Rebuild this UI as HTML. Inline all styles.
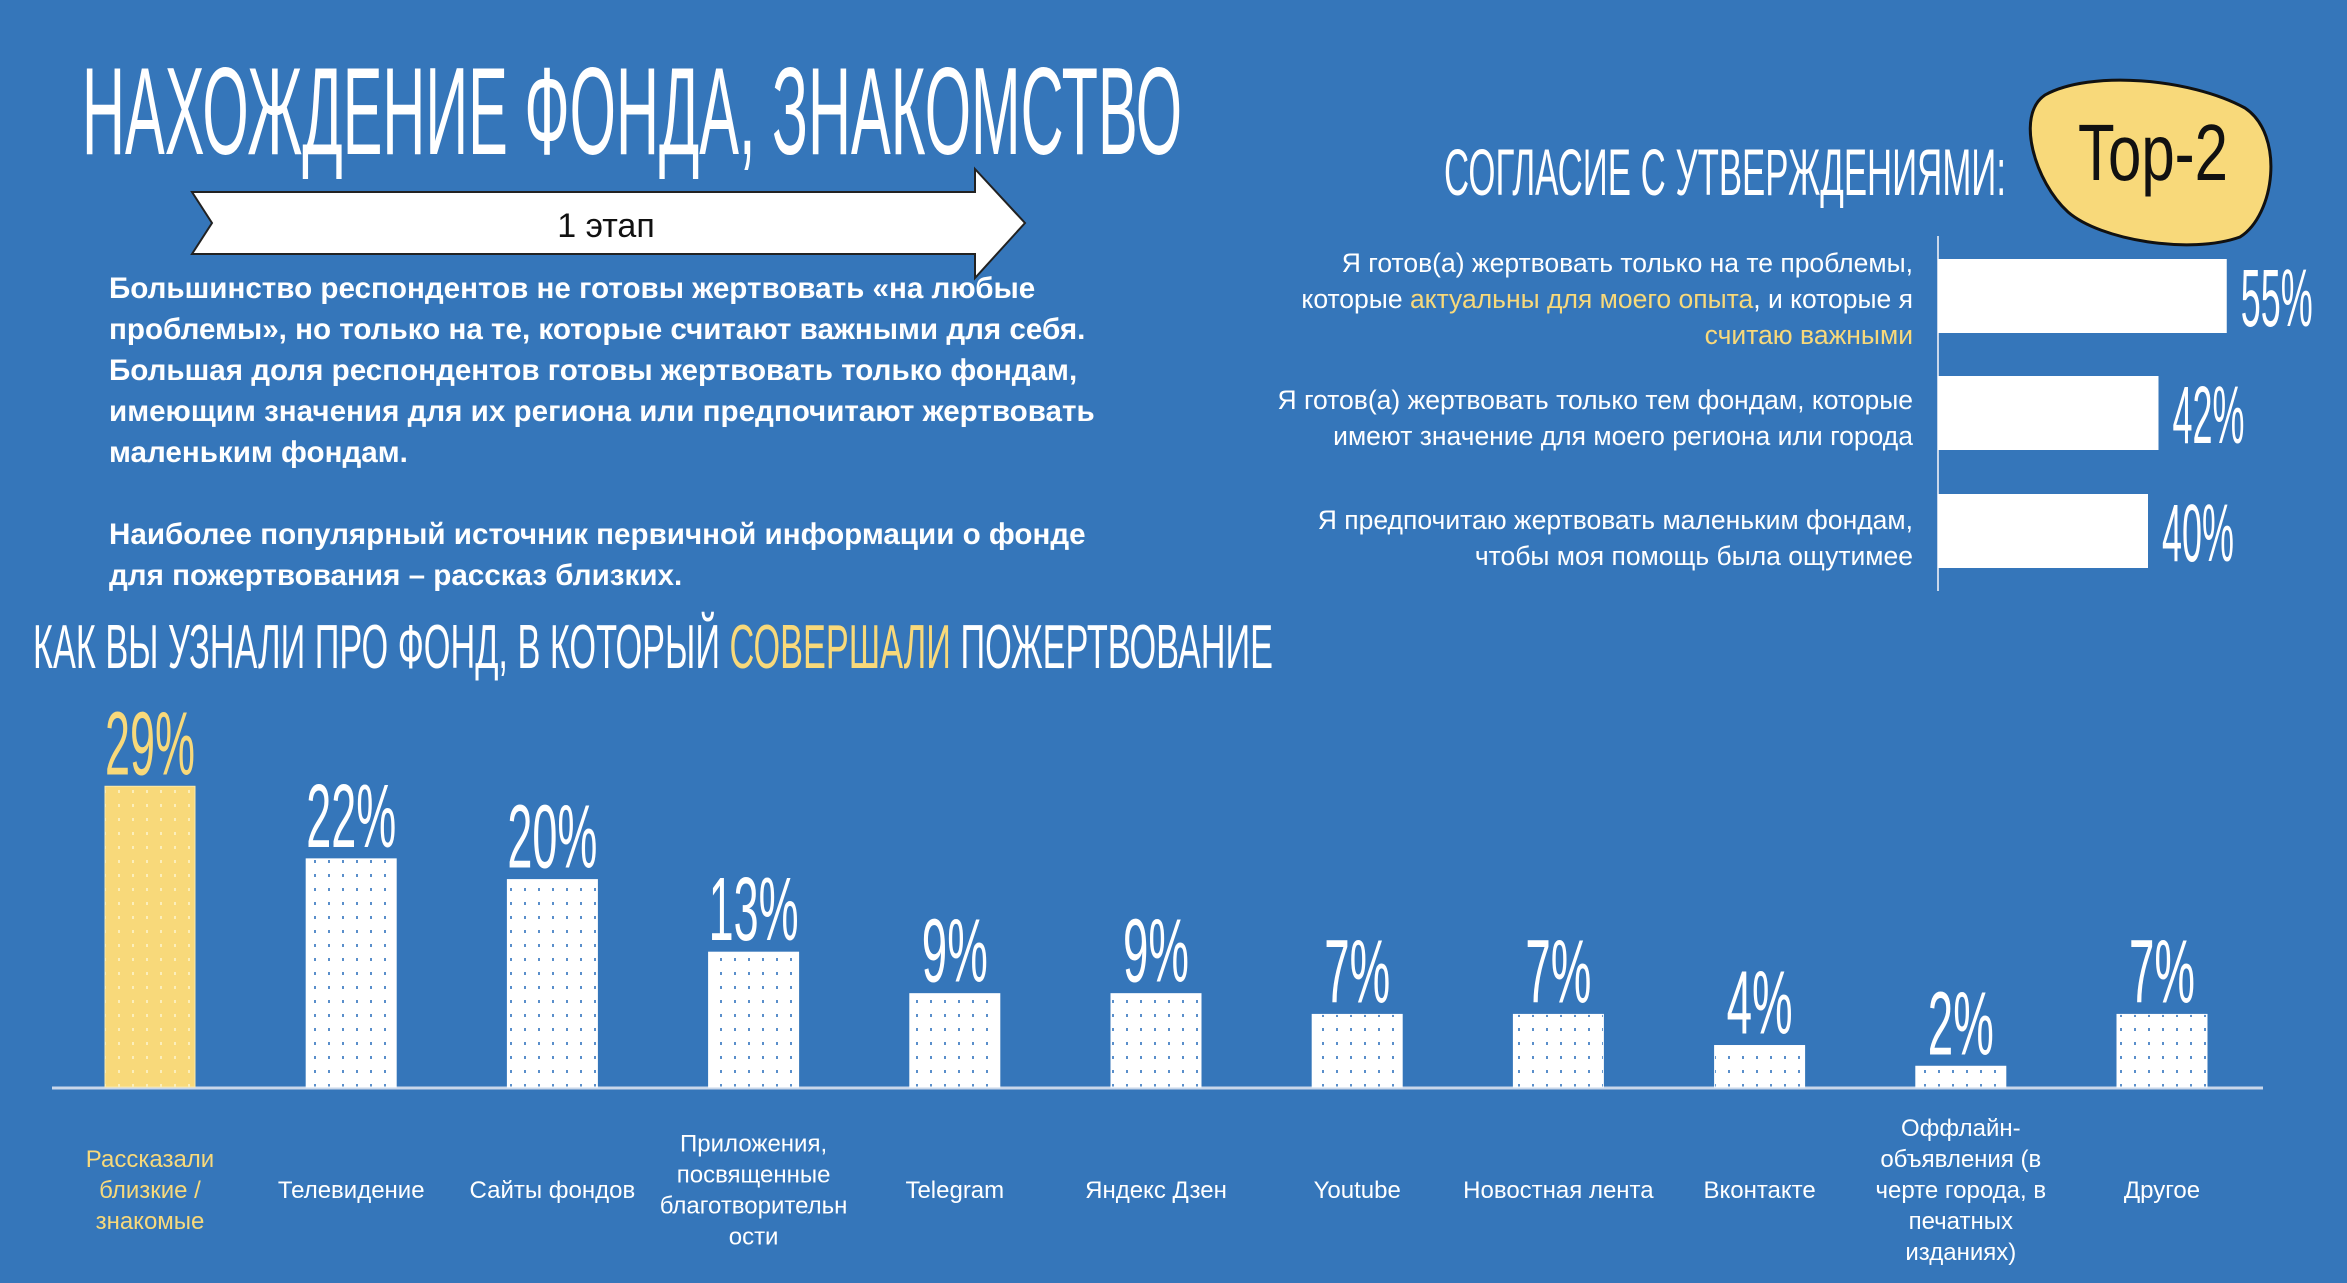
<!DOCTYPE html>
<html><head><meta charset="utf-8"><style>
html,body{margin:0;padding:0;background:#3576ba;}
svg{display:block;}
.hand{font-family:"Liberation Sans Narrow","Liberation Sans","DejaVu Sans Condensed",sans-serif;}
.body{font-family:"Liberation Sans","DejaVu Sans",sans-serif;}
</style></head><body>
<svg id="root" width="2347" height="1283" viewBox="0 0 2347 1283" xmlns="http://www.w3.org/2000/svg">
<defs>
<pattern id="dotsW" width="14" height="14" patternUnits="userSpaceOnUse"><rect width="14" height="14" fill="#ffffff"/><rect x="6" y="6" width="2" height="3" fill="#5a8fcb"/></pattern>
<pattern id="dotsY" width="14" height="14" patternUnits="userSpaceOnUse"><rect width="14" height="14" fill="#f8d97a"/><rect x="6" y="6" width="2" height="3" fill="#fbeebb"/></pattern>
</defs>
<rect width="2347" height="1283" fill="#3576ba"/>
<text class="hand" x="82" y="154" font-size="124" fill="#fff" textLength="1100" lengthAdjust="spacingAndGlyphs">НАХОЖДЕНИЕ ФОНДА, ЗНАКОМСТВО</text>
<polygon points="192,192 975,192 975,169 1025,223 975,278 975,254 192,254 212,223" fill="#fff" stroke="#222" stroke-width="2"/>
<text class="body" x="606" y="237" font-size="34" fill="#111" text-anchor="middle">1 этап</text>
<g class="body" font-size="29.6" font-weight="bold" fill="#fff">
<text x="109" y="298">Большинство респондентов не готовы жертвовать «на любые</text>
<text x="109" y="339">проблемы», но только на те, которые считают важными для себя.</text>
<text x="109" y="380">Большая доля респондентов готовы жертвовать только фондам,</text>
<text x="109" y="421">имеющим значения для их региона или предпочитают жертвовать</text>
<text x="109" y="462">маленьким фондам.</text>
<text x="109" y="544">Наиболее популярный источник первичной информации о фонде</text>
<text x="109" y="585">для пожертвования – рассказ близких.</text>
</g>
<text class="hand" x="33" y="668" font-size="62" fill="#fff" textLength="1240" lengthAdjust="spacingAndGlyphs">КАК ВЫ УЗНАЛИ ПРО ФОНД, В КОТОРЫЙ <tspan fill="#f8d97a">СОВЕРШАЛИ</tspan> ПОЖЕРТВОВАНИЕ</text>
<g id="colchart"></g>

<text class="hand" x="1444" y="195" font-size="66" fill="#fff" textLength="562" lengthAdjust="spacingAndGlyphs">СОГЛАСИЕ С УТВЕРЖДЕНИЯМИ:</text>
<path d="M2045,95 C2090,70 2190,78 2245,108 C2285,135 2275,215 2240,237 C2190,255 2100,240 2068,212 C2035,182 2015,115 2045,95 Z" fill="#f8d97a" stroke="#111" stroke-width="3"/>
<text class="hand" x="2078" y="180" font-size="80" fill="#111" textLength="150" lengthAdjust="spacingAndGlyphs">Top-2</text>
<line x1="1938" y1="236" x2="1938" y2="591" stroke="#c9d7ea" stroke-width="2"/>
<g id="hchart"></g>
</svg>
<script>
const catLabels=[["Рассказали","близкие /","знакомые"],["Телевидение"],["Сайты фондов"],["Приложения,","посвященные","благотворительн","ости"],["Telegram"],["Яндекс Дзен"],["Youtube"],["Новостная лента"],["Вконтакте"],["Оффлайн-","объявления (в","черте города, в","печатных","изданиях)"],["Другое"]];
const catValues=[29,22,20,13,9,9,7,7,4,2,7];
const agreeValues=[55,42,40];
const agreeLabels=[
 [["Я готов(а) жертвовать только на те проблемы,"],["которые ",["актуальны для моего опыта","y"],", и которые я"],[["считаю важными","y"]]],
 [["Я готов(а) жертвовать только тем фондам, которые"],["имеют значение для моего региона или города"]],
 [["Я предпочитаю жертвовать маленьким фондам,"],["чтобы моя помощь была ощутимее"]]
];
const NS="http://www.w3.org/2000/svg";
function mk(t,a,p){const e=document.createElementNS(NS,t);for(const k in a)e.setAttribute(k,a[k]);p.appendChild(e);return e;}
const base=1087, pxPer=10.37, x0=150, step=201.2, bw=90;
const xC=i=>x0+i*step, yV=v=>base-v*pxPer;
const g=document.getElementById('colchart');
const ax=mk('line',{x1:52,y1:base+1,x2:2263,y2:base+1,stroke:'#c9d7ea','stroke-width':3},g);


catValues.forEach((v,i)=>{
 const hl=i===0;
 const r=mk('rect',{x:xC(i)-bw/2,y:yV(v),width:bw,height:base-yV(v),fill:hl?'url(#dotsY)':'url(#dotsW)',stroke:hl?'#fbe9a8':'#fff','stroke-width':1},g);
 
 
 const lbl=v+'%';
 const tw=lbl.length>2?90:66;
 const t=mk('text',{x:xC(i)-tw/2,y:yV(v)-12,'font-size':90,fill:hl?'#f8d97a':'#fff',class:'hand',textLength:tw,lengthAdjust:'spacingAndGlyphs'},g);
 t.textContent=lbl;
 
 
 const lines=catLabels[i], lh=31, y0=1190-(lines.length-1)*lh/2+8;
 const lt=mk('text',{x:xC(i),'font-size':24,fill:hl?'#f8d97a':'#fff','text-anchor':'middle',class:'body'},g);
 
 
 lines.forEach((s,j)=>{const ts=mk('tspan',{x:xC(i),y:y0+j*lh},lt);ts.textContent=s;});
});
const h=document.getElementById('hchart');
const hx0=1938, hPx=5.25, rowY=[259,376,494], bh=74, labelShift=[3,5,7];
agreeValues.forEach((v,i)=>{
 const r=mk('rect',{x:hx0,y:rowY[i],width:v*hPx,height:bh,fill:'#fff'},h);
 
 
 const t=mk('text',{x:hx0+v*hPx+14,y:rowY[i]+bh/2+30,'font-size':82,fill:'#fff',class:'hand',textLength:72,lengthAdjust:'spacingAndGlyphs'},h);
 t.textContent=v+'%';
 
 
 const lines=agreeLabels[i], lh=36, cy=rowY[i]+bh/2 + labelShift[i], y0=cy-(lines.length-1)*lh/2+9;
 const lt=mk('text',{'font-size':26.5,fill:'#fff','text-anchor':'end',class:'body'},h);
 
 
 lines.forEach((parts,j)=>{
  parts.forEach((p,k)=>{
   const a={}; if(k===0){a.x=1913;a.y=y0+j*lh;}
   const ts=mk('tspan',a,lt);
   if(Array.isArray(p)){ts.textContent=p[0];ts.setAttribute('fill','#f8d97a');} else ts.textContent=p;
  });
 });
});
</script>
</body></html>
